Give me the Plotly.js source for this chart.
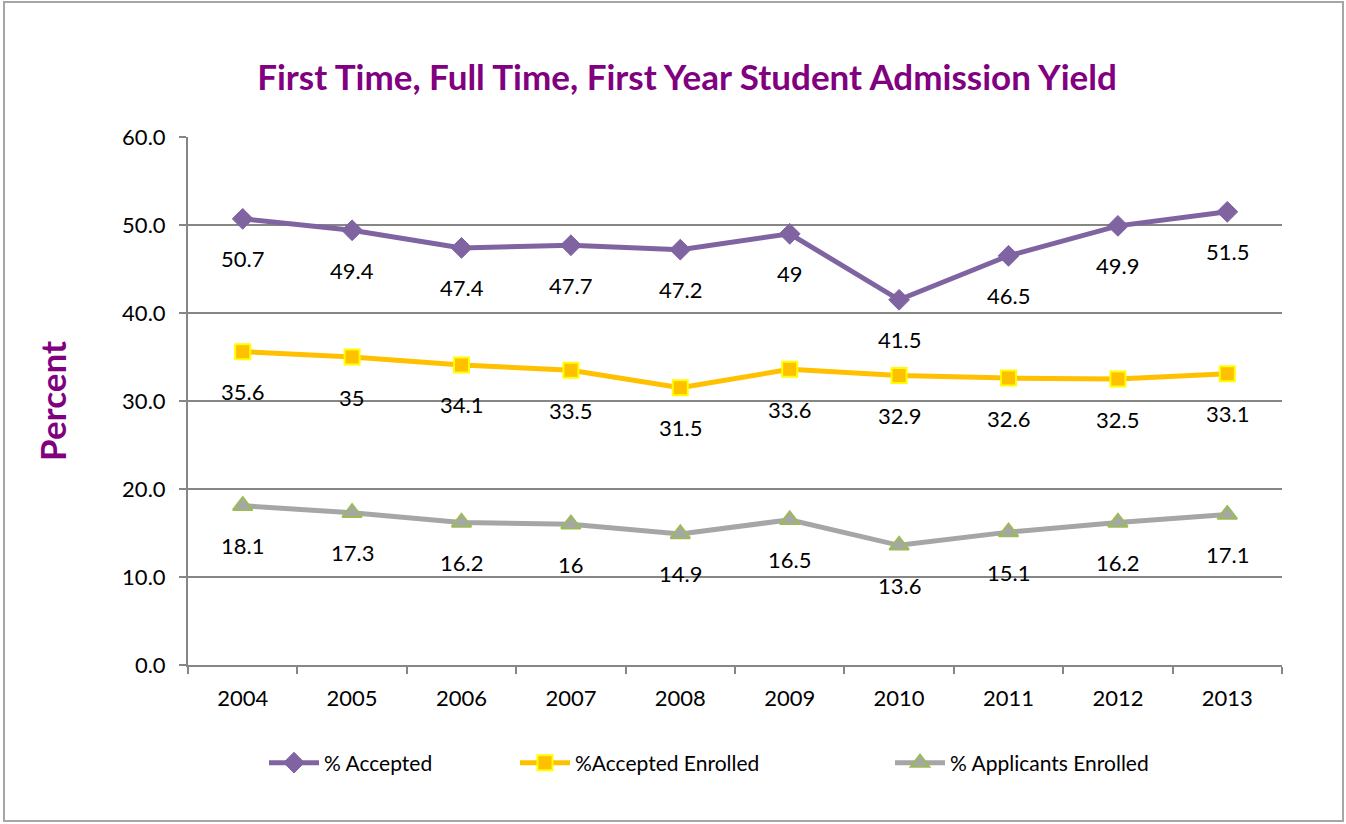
<!DOCTYPE html>
<html>
<head>
<meta charset="utf-8">
<script src="https://cdn.plot.ly/plotly-3.0.1.min.js"></script>
<style>
  body { margin: 0; padding: 0; background: #fff; }
  #chart { position: absolute; left: 0; top: 0; width: 1346px; height: 824px; }
  #frame { position: absolute; left: 3px; top: 1px; width: 1337px; height: 817px; border: 2px solid #a6a6a6; pointer-events: none; }
</style>
</head>
<body>
<div id="chart"></div>
<div id="frame"></div>
<script>
const years = ['2004','2005','2006','2007','2008','2009','2010','2011','2012','2013'];
const accepted = [50.7, 49.4, 47.4, 47.7, 47.2, 49, 41.5, 46.5, 49.9, 51.5];
const acceptedEnrolled = [35.6, 35, 34.1, 33.5, 31.5, 33.6, 32.9, 32.6, 32.5, 33.1];
const applicantsEnrolled = [18.1, 17.3, 16.2, 16, 14.9, 16.5, 13.6, 15.1, 16.2, 17.1];
const seriesNames = ['% Accepted', '%Accepted Enrolled', '% Applicants Enrolled'];
const yTickVals = [0, 10, 20, 30, 40, 50, 60];
const yTickText = ['0.0','10.0','20.0','30.0','40.0','50.0','60.0'];

const FONT = 'Lato, "Open Sans", sans-serif';

const traces = [
  {
    x: years, y: accepted, name: seriesNames[0], type: 'scatter', mode: 'lines+markers',
    line: {color: '#8064A2', width: 5},
    marker: {symbol: 'diamond', size: 16, color: '#8064A2', line: {color: '#8064A2', width: 1}},
    legend: 'legend'
  },
  {
    x: years, y: acceptedEnrolled, name: seriesNames[1], type: 'scatter', mode: 'lines+markers',
    line: {color: '#FFC000', width: 5},
    marker: {symbol: 'square', size: 15, color: '#FFC000', line: {color: '#FFFF00', width: 2}},
    legend: 'legend2'
  },
  {
    x: years, y: applicantsEnrolled, name: seriesNames[2], type: 'scatter', mode: 'lines+markers',
    line: {color: '#A6A6A6', width: 5},
    marker: {symbol: 'triangle-up', size: 17, color: '#A6A6A6', line: {color: '#9BBB59', width: 2}},
    legend: 'legend3'
  }
];

// data labels below each point (x given as category index on the category axis)
const annotations = [];
[accepted, acceptedEnrolled, applicantsEnrolled].forEach(arr => {
  arr.forEach((v, i) => {
    annotations.push({
      x: i, y: v, xref: 'x', yref: 'y', text: String(v),
      showarrow: false, yshift: -40,
      font: {family: FONT, size: 22, color: '#000'}
    });
  });
});

const legendCommon = {
  orientation: 'h', xref: 'container', yref: 'container', yanchor: 'middle',
  font: {family: FONT, size: 21, color: '#000'}, bgcolor: 'rgba(0,0,0,0)', itemwidth: 50
};

const layout = {
  width: 1346, height: 824,
  margin: {l: 188, r: 64, t: 137, b: 159},
  paper_bgcolor: '#fff', plot_bgcolor: '#fff',
  title: {
    text: '<b>First Time, Full Time, First Year Student Admission Yield</b>',
    font: {family: FONT, size: 35, color: '#800080'},
    x: 687/1346, xanchor: 'center', xref: 'container', y: 1 - 78/824, yanchor: 'middle', yref: 'container'
  },
  xaxis: {
    type: 'category', range: [-0.5, 9.5],
    showgrid: false, showline: true, linecolor: '#868686', linewidth: 2,
    ticks: 'outside', tickson: 'boundaries', ticklen: 7, tickcolor: '#868686', tickwidth: 2,
    ticklabelstandoff: 13,
    tickfont: {family: FONT, size: 22, color: '#000'}, fixedrange: true
  },
  yaxis: {
    range: [0, 60], tickvals: yTickVals, ticktext: yTickText,
    showgrid: true, gridcolor: '#868686', gridwidth: 2,
    showline: true, linecolor: '#868686', linewidth: 2,
    ticks: 'outside', ticklen: 7, tickcolor: '#868686', tickwidth: 2,
    ticklabelstandoff: 9,
    tickfont: {family: FONT, size: 22, color: '#000'},
    zeroline: false,
    title: {text: '<b>Percent</b>', font: {family: FONT, size: 35, color: '#800080'}, standoff: 45}
  },
  showlegend: true,
  legend: Object.assign({}, legendCommon, {x: 264/1346, y: 1 - 763/824}),
  legend2: Object.assign({}, legendCommon, {x: 515/1346, y: 1 - 763/824}),
  legend3: Object.assign({}, legendCommon, {x: 890/1346, y: 1 - 763/824}),
  annotations: annotations
};

Plotly.newPlot('chart', traces, layout, {displayModeBar: false, staticPlot: true});
</script>
</body>
</html>
